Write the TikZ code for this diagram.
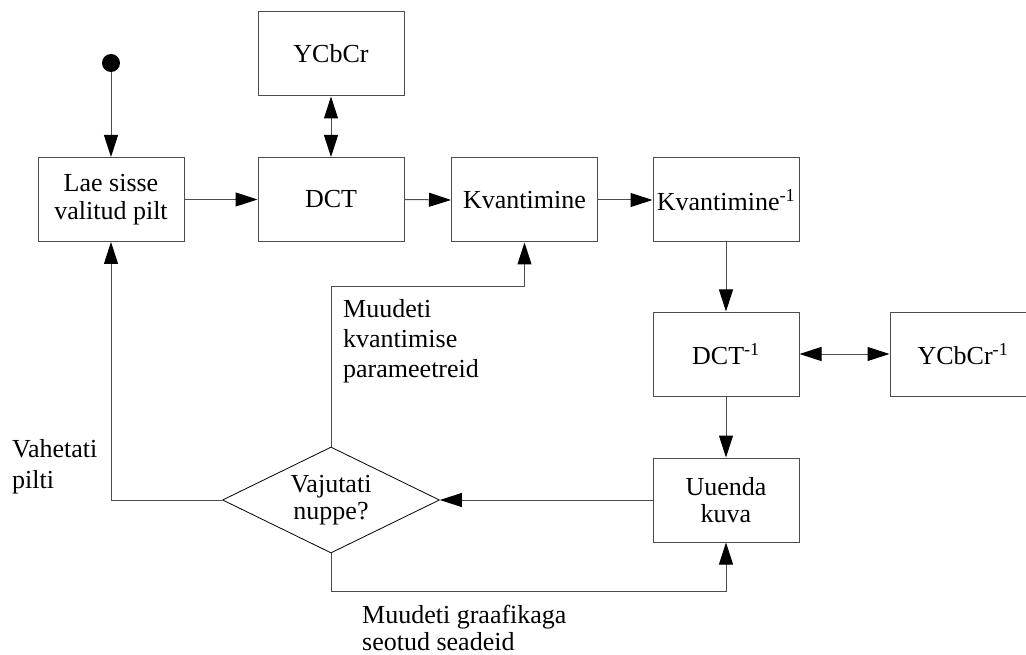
\documentclass[tikz,border=0pt]{standalone}
\usepackage{fontspec}
\setmainfont{Liberation Serif}
\usetikzlibrary{arrows.meta,shapes.geometric}
\begin{document}
\begin{tikzpicture}[x=1pt,y=-1pt,
  every node/.style={font=\fontsize{26}{27.5}\selectfont},
  block/.style={draw=black!70, line width=1pt, rectangle, minimum width=146pt,
    minimum height=84pt, inner sep=2pt, align=center},
  decision/.style={draw=black, line width=0.8pt, diamond, aspect=2, inner sep=0pt,
    minimum width=217pt, minimum height=106pt, align=center},
  label/.style={anchor=north west, inner sep=0pt, align=left},
  tip/.style={Triangle[length=22pt,width=14pt,color=black]},
  conn/.style={draw=black!70, line width=1pt, -{Triangle[length=22pt,width=14pt,color=black]}},
  biconn/.style={draw=black!70, line width=1pt,
    {Triangle[length=22pt,width=14pt,color=black]}-{Triangle[length=22pt,width=14pt,color=black]}}
]
\useasboundingbox (0,0) rectangle (1026,655);

% start point
\node[circle, fill=black, minimum size=18pt, inner sep=0pt] (start) at (111,63) {};

% processing blocks
\node[block] (lae)  at (111,199.5) {Lae sisse\\valitud pilt};
\node[block] (dct)  at (331,199.5) {DCT};
\node[block] (ycc)  at (331,54)    {YCbCr};
\node[block] (kv)   at (524.5,200) {Kvantimine};
\node[block] (kvi)  at (726,200)   {Kvantimine\textsuperscript{-1}};
\node[block] (idct) at (726,354)   {DCT\textsuperscript{-1}};
\node[block] (iycc) at (963,354)   {YCbCr\textsuperscript{-1}};
\node[block] (uu)   at (726,500)   {Uuenda\\kuva};
\node[decision] (dec) at (331,500) {Vajutati\\nuppe?};

% branch labels
\node[label, font=\fontsize{26}{31}\selectfont] (l1) at (12,439) {Vahetati\\pilti};
\node[label, font=\fontsize{26}{30}\selectfont] (l2) at (343,299) {Muudeti\\kvantimise\\parameetreid};
\node[label, font=\fontsize{26}{27}\selectfont] (l3) at (362,605) {Muudeti graafikaga\\seotud seadeid};

% main flow
\draw[conn] (start) -- (lae.north);
\draw[conn] (lae.east) -- (dct.west);
\draw[biconn] (ycc.south) -- (dct.north);
\draw[conn] (dct.east) -- (kv.west);
\draw[conn] (kv.east) -- (kvi.west);
\draw[conn] (kvi.south) -- (idct.north);
\draw[biconn] (idct.east) -- (iycc.west);
\draw[conn] (idct.south) -- (uu.north);
\draw[conn] (uu.west) -- (dec.east);

% decision branches
\draw[conn] (dec.west) -| (lae.south);
\draw[conn] (dec.north) -- ++(0,-160) -| (kv.south);
\draw[conn] (dec.south) -- ++(0,38) -| (uu.south);
\end{tikzpicture}
\end{document}
